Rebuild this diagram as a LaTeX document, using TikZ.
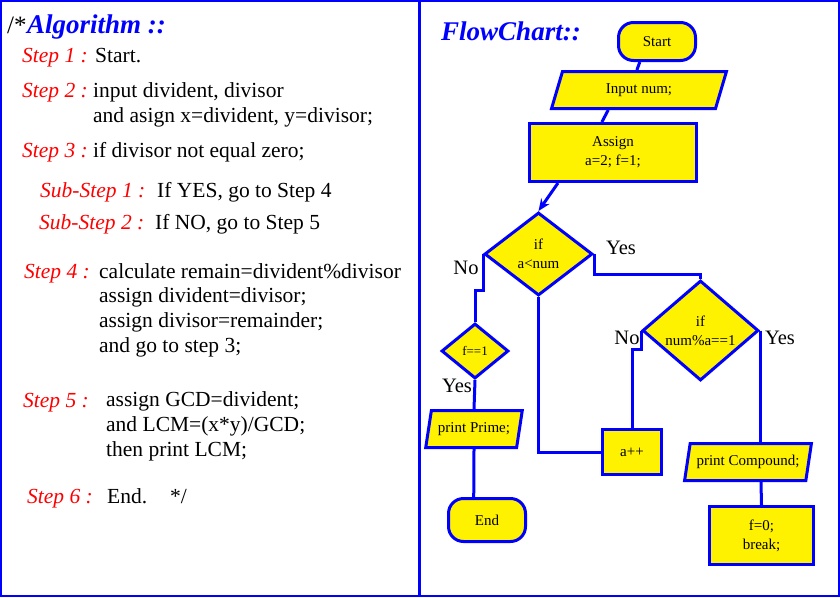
\documentclass[tikz,border=0pt]{standalone}
\usepackage{fontspec}
\setmainfont{Liberation Serif}
\usetikzlibrary{positioning,arrows.meta,shapes.geometric}
\newcommand\algfont{\fontsize{21.5}{24.6}\selectfont}
\newcommand\chartfont{\fontsize{15}{19}\selectfont}

\begin{document}
\begin{tikzpicture}[x=1pt,y=-1pt,
  steplbl/.style={anchor=base west, inner sep=0pt, text=red, font=\algfont\itshape},
  steptxt/.style={anchor=base west, inner sep=0pt, align=left, font=\algfont},
  heading/.style={anchor=base west, inner sep=0pt, text=blue, font=\fontsize{27}{30}\selectfont\bfseries\itshape},
  blk/.style={draw=blue, fill=yellow, line width=3pt, inner sep=0pt, align=center, font=\chartfont},
  terminal/.style={blk, rectangle, rounded corners=15pt},
  process/.style={blk, rectangle},
  decision/.style={blk, diamond},
  io/.style={blk, trapezium, trapezium left angle=70, trapezium right angle=110, trapezium stretches=true},
  lbl/.style={inner sep=0pt, font=\fontsize{20.5}{24}\selectfont},
  flow/.style={draw=blue, line width=3pt},
]
\useasboundingbox (0,0) rectangle (840,597);
\draw[blue, line width=2pt] (1,1) rectangle (839,596);
\draw[blue, line width=3pt] (419.5,0) -- (419.5,597);

% algorithm (multi-line texts sit on their last baseline)
\node[anchor=base west, inner sep=0pt, font=\fontsize{25}{28}\selectfont] (cmt) at (7,33) {/*};
\node[heading, right=0pt of cmt.base east, anchor=base west] (alg) {Algorithm ::};
\node[steplbl] (s1) at (22,62) {Step 1 :};
\node[steptxt] (t1) at (95,62) {Start.};
\node[steplbl] (s2) at (22,97) {Step 2 :};
\node[steptxt] (t2) at (93,122) {input divident, divisor\\and asign x=divident, y=divisor;};
\node[steplbl] (s3) at (22,157) {Step 3 :};
\node[steptxt] (t3) at (93,157) {if divisor not equal zero;};
\node[steplbl] (ss1) at (40,197) {Sub-Step 1 :};
\node[steptxt] (u1) at (157,197) {If YES, go to Step 4};
\node[steplbl] (ss2) at (39,229) {Sub-Step 2 :};
\node[steptxt] (u2) at (155,229) {If NO, go to Step 5};
\node[steplbl] (s4) at (24,278) {Step 4 :};
\node[steptxt] (t4) at (99,352) {calculate remain=divident\%divisor\\assign divident=divisor;\\assign divisor=remainder;\\and go to step 3;};
\node[steplbl] (s5) at (23,407) {Step 5 :};
\node[steptxt] (t5) at (106,456) {assign GCD=divident;\\and LCM=(x*y)/GCD;\\then print LCM;};
\node[steplbl] (s6) at (27,503) {Step 6 :};
\node[steptxt] (t6) at (107,503) {End.};
\node[steptxt] (endcmt) at (170,503) {*/};

% flowchart
\node[heading] (fc) at (441,40) {FlowChart::};
\node[terminal, minimum width=77, minimum height=38] (start) at (657,41.5) {Start};
\node[io, minimum width=175, minimum height=37] (input) at (639,90) {Input num;};
\node[process, minimum width=167, minimum height=58] (assign) at (613,152.5) {Assign\\a=2; f=1;};
\node[decision, minimum width=108, minimum height=83] (cond) at (538.5,254) {if\\a<num};
\node[decision, minimum width=116, minimum height=88] (mod) at (700.5,330.5) {if\\num\%a==1};
\node[decision, minimum width=67, minimum height=55, font=\fontsize{13}{16}\selectfont] (flag) at (475,351) {f==1};
\node[io, minimum width=97, minimum height=37] (prime) at (474,429) {print Prime;};
\node[process, minimum width=59, minimum height=45] (inc) at (632,452) {a++};
\node[io, minimum width=127, minimum height=37] (comp) at (748,462) {print Compound;};
\node[process, minimum width=104, minimum height=58] (brk) at (761.5,535.5) {f=0;\\break;};
\node[terminal, minimum width=77, minimum height=43] (stop) at (487,520) {End};

\node[lbl] (yes1) at (621,248) {Yes};
\node[lbl] (no1) at (466,268) {No};
\node[lbl] (no2) at (627,338) {No};
\node[lbl] (yes2) at (780,338) {Yes};
\node[lbl] (yes3) at (457,386) {Yes};

\draw[flow] (start.230) -- (input.96);
\draw[flow] (input.213) -- (assign.110);
\draw[flow, -{Stealth[length=12pt,width=10pt]}] (assign.209) -- (cond.north);
\draw[flow] (cond.east) -- ++(0,20) -| (mod.north);
\draw[flow] (cond.west) -- ++(0,36) -| (flag.north);
\draw[flow] (cond.south) |- (inc.west);
\draw[flow] (mod.west) -- ++(0,19) -| (inc.north);
\draw[flow] (mod.east) -- ++(0,21) -| (comp.57);
\draw[flow] (comp.303) -- (brk.north);
\draw[flow] (flag.south) -- (prime.north);
\draw[flow] (prime.south) -- (stop.120);
\end{tikzpicture}
\end{document}
